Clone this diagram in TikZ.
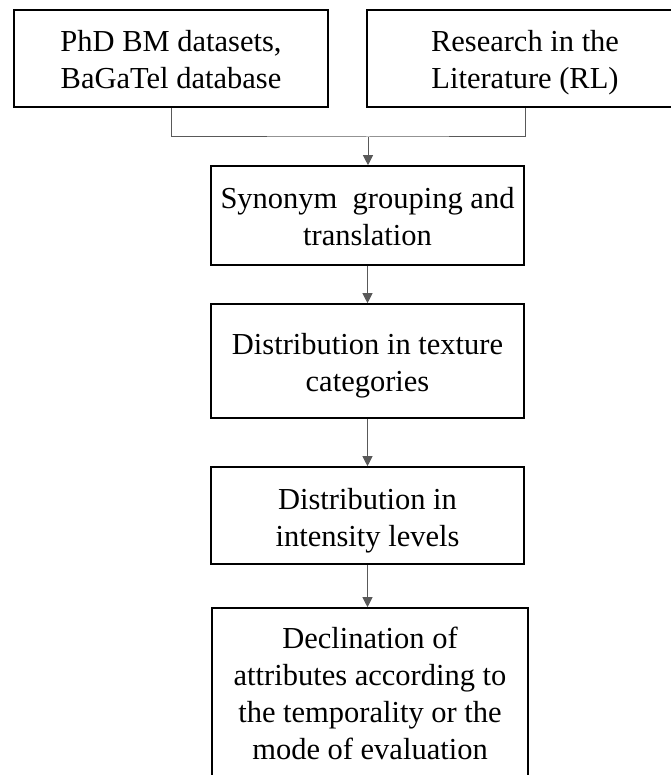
\documentclass[tikz,border=0pt]{standalone}
\usepackage{fontspec}
\setmainfont{Liberation Serif}
\usetikzlibrary{arrows.meta}
\newcommand\topstrut{\rule{0pt}{32pt}}

\begin{document}
\begin{tikzpicture}[
  x=1pt, y=-1pt,
  stepbox/.style={
    draw=black, line width=1.6pt, fill=white,
    align=center, inner sep=0pt,
    font={\fontsize{30.5}{37}\selectfont},
    execute at end node={\rule[-8pt]{0pt}{8pt}}
  },
  link/.style={draw=black!65, line width=1pt},
  flow/.style={link, -{Triangle[width=10pt,length=10pt]}}
]
\useasboundingbox (0,0) rectangle (670,775);
\node[stepbox, minimum width=314pt, minimum height=97pt] (data) at (171,58.5)
  {\topstrut PhD BM datasets,\\BaGaTel database};
\node[stepbox, minimum width=316pt, minimum height=97pt] (lit) at (525,58.5)
  {\topstrut Research in the\\Literature (RL)};
\node[stepbox, minimum width=313pt, minimum height=99pt] (syn) at (367.5,215.5)
  {\topstrut Synonym\ \ grouping and\\translation};
\node[stepbox, minimum width=313pt, minimum height=114pt] (cat) at (367.5,361)
  {\topstrut Distribution in texture\\categories};
\node[stepbox, minimum width=313pt, minimum height=97pt] (lev) at (367.5,515.5)
  {\topstrut Distribution in\\intensity levels};
\node[stepbox, minimum width=316pt, minimum height=190pt,
  execute at end node={\rule[-31pt]{0pt}{1pt}}] (decl) at (370,703)
  {\topstrut Declination of\\attributes according to\\the temporality or the\\mode of evaluation};
\coordinate (join) at (368,137);
\draw[link] (data.south) |- (join) -| (lit.south);
\draw[flow] (join) -- (join |- syn.north);
\draw[flow] (syn.south) -- (cat.north);
\draw[flow] (cat.south) -- (lev.north);
\draw[flow] (lev.south) -- (lev.south |- decl.north);
\end{tikzpicture}
\end{document}
